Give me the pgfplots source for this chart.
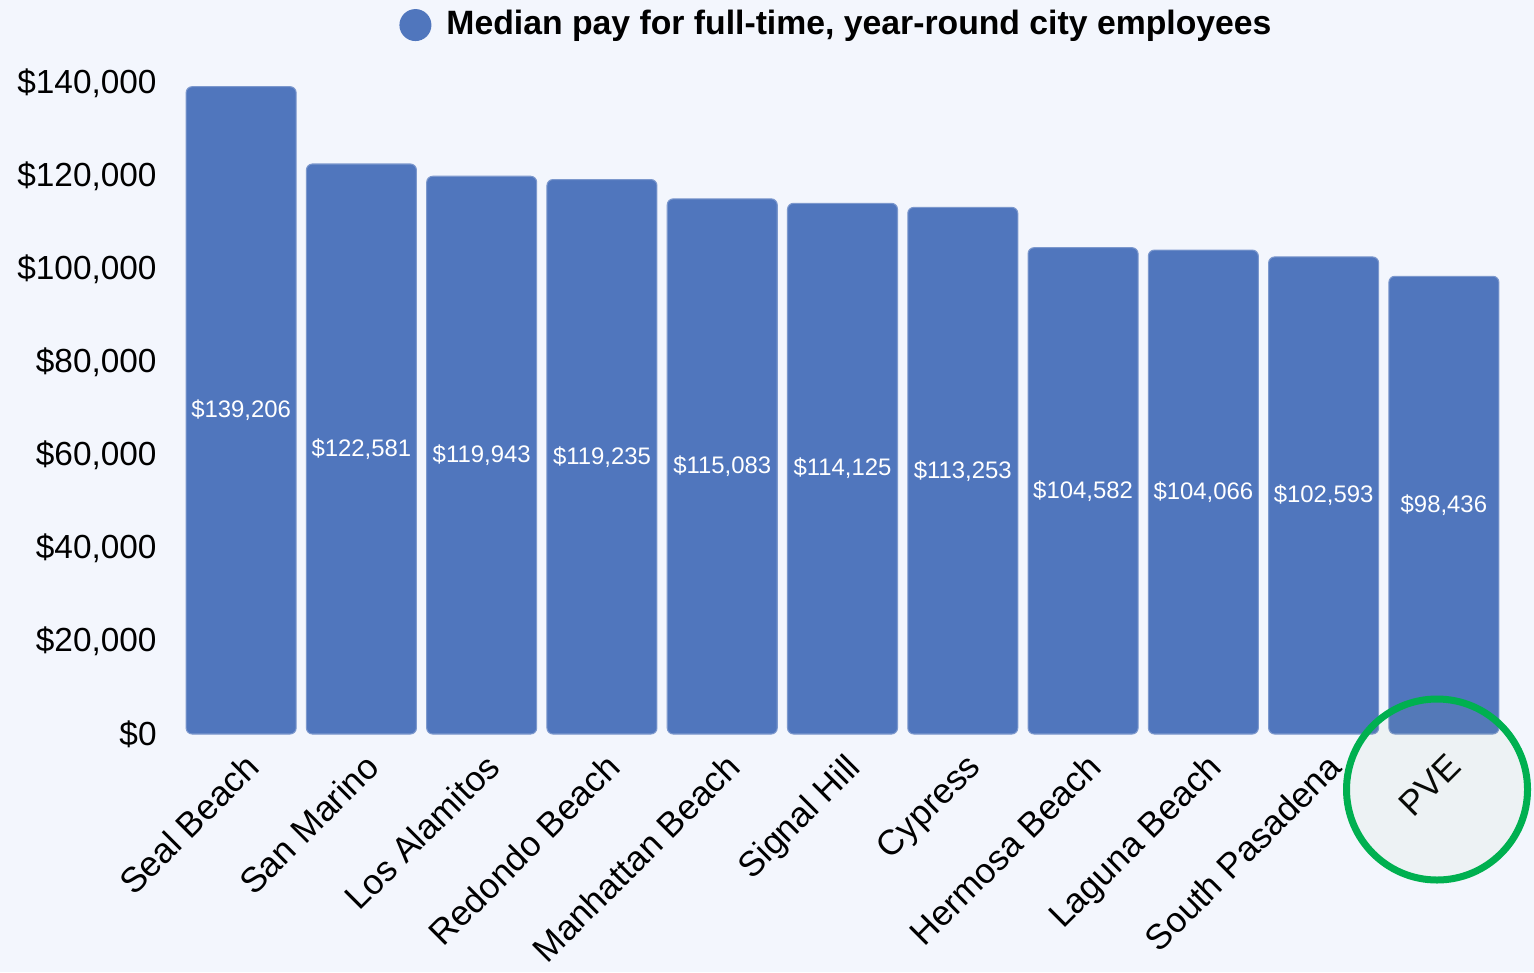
\documentclass[border=0pt]{standalone}
\usepackage{fontspec}
\setmainfont{Liberation Sans}
\usepackage{pgfplots}
\usepackage{pgfplotstable}
\pgfplotsset{compat=1.18}

\definecolor{barblue}{RGB}{80,118,189}
\definecolor{bgcol}{RGB}{243,246,253}
\definecolor{ringgreen}{RGB}{0,176,80}
\definecolor{ringfill}{RGB}{150,185,110}

% median pay, full-time year-round city employees
\pgfplotstableread{
x pay
0  139206
1  122581
2  119943
3  119235
4  115083
5  114125
6  113253
7  104582
8  104066
9  102593
10 98436
}\paydata

\begin{document}
\begin{tikzpicture}
\path[use as bounding box, fill=bgcol] (0,0) rectangle (153.4mm,97.2mm);
\begin{axis}[
  at={(18.1mm,23.8mm)}, anchor=south west,
  scale only axis, width=132.3mm, height=65.1mm,
  xmin=-0.5, xmax=10.5, ymin=0, ymax=140000,
  axis line style={draw=none}, major tick length=0pt,
  xtick={0,...,10},
  xticklabels={Seal Beach, San Marino, Los Alamitos, Redondo Beach, Manhattan Beach, Signal Hill, Cypress, Hermosa Beach, Laguna Beach, South Pasadena, PVE},
  xticklabel style={font=\fontsize{10}{12}\selectfont, xshift=0.2mm, yshift=0mm, rotate=45, anchor=north east},
  ytick={0,20000,...,140000},
  scaled y ticks=false,
  /pgf/number format/assume math mode=true,
  yticklabel={\$\pgfmathprintnumber[fixed,precision=0,1000 sep={,}]{\tick}},
  yticklabel style={font=\fontsize{9.5}{11}\selectfont, xshift=-1.2mm},
  legend style={at={(0.4973,1.089)}, anchor=center, draw=none, fill=none,
    font=\bfseries\fontsize{9.6}{11}\selectfont},
  legend image code/.code={\fill[barblue, draw=none] (0cm,0cm) circle (1.6mm);
    \path[draw=none, fill=none] (1.6mm,0cm) -- (2.4mm,0cm);},
]
\addplot[ybar, bar width=11mm, fill=barblue, draw=barblue!75!white, line width=0.3pt,
  rounded corners=0.6mm] table[x=x, y=pay] {\paydata};
\addlegendentry{Median pay for full-time, year-round city employees}

\addplot[forget plot, draw=none, mark=none,
  point meta=\thisrow{pay},
  nodes near coords={\$\pgfmathprintnumber[fixed,precision=0,1000 sep={,}]{\pgfplotspointmeta}},
  every node near coord/.append style={white, anchor=center, font=\fontsize{6.8}{8}\selectfont}]
  table[x=x, y expr=\thisrow{pay}/2] {\paydata};
\end{axis}
\draw[ringgreen, line width=0.7mm, fill=ringfill, fill opacity=0.06] (143.7mm,18.25mm) circle (9.05mm);
\end{tikzpicture}
\end{document}
